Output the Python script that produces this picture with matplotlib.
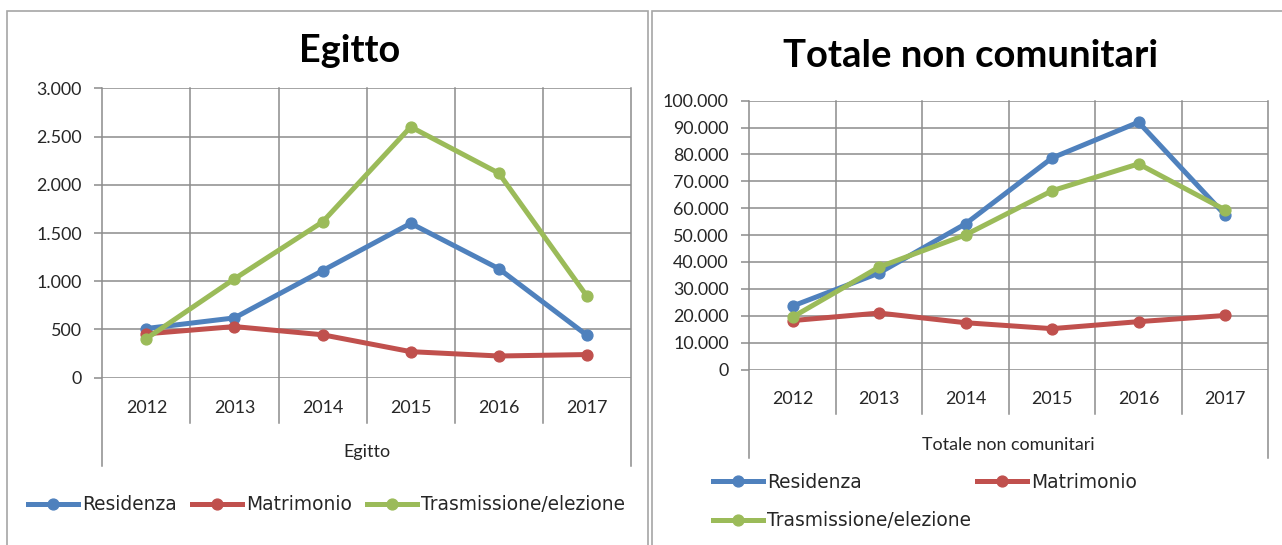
import matplotlib
matplotlib.use("Agg")
import matplotlib.pyplot as plt
from matplotlib.lines import Line2D
from matplotlib.patches import Rectangle
from matplotlib.ticker import FuncFormatter, MultipleLocator

# ---------------- data ----------------
years = ["2012", "2013", "2014", "2015", "2016", "2017"]
series_names = ["Residenza", "Matrimonio", "Trasmissione/elezione"]

egitto_residenza = [510, 620, 1110, 1600, 1130, 440]
egitto_matrimonio = [455, 530, 445, 270, 225, 240]
egitto_trasmissione = [405, 1025, 1615, 2600, 2120, 845]

totale_residenza = [23600, 35900, 54200, 78700, 92000, 57500]
totale_matrimonio = [18200, 21000, 17400, 15200, 17800, 20100]
totale_trasmissione = [19500, 38100, 50100, 66500, 76500, 59400]

colors = ["#4F81BD", "#C0504D", "#9BBB59"]

W, H = 1282, 545
fig = plt.figure(figsize=(W / 100, H / 100), dpi=100)
fig.patch.set_facecolor("white")

GRID = "#8c8c8c"
TXT = "#262626"
BASE = "Lato"
LEG = "DejaVu Sans"
LW = 3.6
MS = 7.8
TICK_FS = 12.9


def fx(px):
    return px / W


def fy(py):
    return 1 - py / H


def thousands(v, pos):
    return f"{int(round(v)):,}".replace(",", ".")


def panel(x0, x1, ytop, ybot, ymax, ystep, series, axis_label, label_y,
          outer_bottom, inner_bottom):
    ax = fig.add_axes([fx(x0), fy(ybot), fx(x1 - x0), (ybot - ytop) / H])
    n = len(years)
    xs = list(range(n))
    for vals, c in zip(series, colors):
        ax.plot(xs, vals, color=c, lw=LW, marker="o", ms=MS,
                solid_capstyle="round", solid_joinstyle="round", zorder=3,
                clip_on=False)
    ax.set_xlim(-0.5, n - 0.5)
    ax.set_ylim(0, ymax)
    ax.yaxis.set_major_locator(MultipleLocator(ystep))
    ax.yaxis.set_major_formatter(FuncFormatter(thousands))
    ax.set_xticks(xs)
    ax.set_xticklabels(years)
    ax.grid(axis="y", color=GRID, lw=1.1)
    for s in ax.spines.values():
        s.set_visible(False)
    ax.tick_params(axis="y", length=5.5, width=1.1, color=GRID, pad=9.3,
                   labelsize=TICK_FS, labelcolor=TXT)
    ax.tick_params(axis="x", length=0, pad=15.7, labelsize=TICK_FS,
                   labelcolor=TXT)
    for lab in ax.get_xticklabels() + ax.get_yticklabels():
        lab.set_family(BASE)
    # category boundary lines (vertical grid + multi-level axis separators)
    h = ybot - ytop
    tr = ax.get_xaxis_transform()
    bounds = [i - 0.5 for i in range(n + 1)]
    for b in bounds:
        outer = b in (bounds[0], bounds[-1])
        low = -(outer_bottom - ybot) / h if outer else -(inner_bottom - ybot) / h
        ax.plot([b, b], [low, 1], transform=tr, color=GRID, lw=1.1,
                clip_on=False, zorder=1)
    ax.text(0.5, -(label_y - ybot) / h, axis_label, transform=ax.transAxes,
            ha="center", va="center", fontsize=TICK_FS, family=BASE, color=TXT)
    return ax


panel(102.3, 631.0, 88.3, 377.7, 3000, 500,
      [egitto_residenza, egitto_matrimonio, egitto_trasmissione],
      "Egitto", 452, 466, 423)
panel(749.3, 1268.3, 100.7, 369.5, 100000, 10000,
      [totale_residenza, totale_matrimonio, totale_trasmissione],
      "Totale non comunitari", 445, 458, 414)

# titles
fig.text(fx(350), fy(62), "Egitto", ha="center", va="baseline",
         fontsize=27.3, fontweight="bold", family=BASE, color="black")
fig.text(fx(970.5), fy(67), "Totale non comunitari", ha="center",
         va="baseline", fontsize=27.5, fontweight="bold", family=BASE,
         color="black")

# legends
handles = [Line2D([], [], color=c, lw=LW, marker="o", ms=MS) for c in colors]
leg1 = fig.legend(handles, series_names, loc="center left",
                  bbox_to_anchor=(fx(28), fy(505)), ncol=3, frameon=False,
                  borderpad=0, borderaxespad=0, handlelength=2.7,
                  handletextpad=0.22, columnspacing=0.8,
                  prop={"family": LEG, "size": 13.4})
# two-column layout, filled column by column: Residenza, Trasmissione | Matrimonio
order = [0, 2, 1]
leg2 = fig.legend([handles[i] for i in order], [series_names[i] for i in order],
                  loc="center left",
                  bbox_to_anchor=(fx(713), fy(501.5)), ncol=2, frameon=False,
                  borderpad=0, borderaxespad=0, handlelength=2.7,
                  handletextpad=0.22, columnspacing=0.3, labelspacing=1.05,
                  prop={"family": LEG, "size": 13.4})
for lg in (leg1, leg2):
    for t in lg.get_texts():
        t.set_color(TXT)

# chart area borders
BORDER = "#a6a6a6"
fig.add_artist(Rectangle((fx(7.3), fy(560)), fx(647.5 - 7.3), (560 - 10.7) / H,
                         transform=fig.transFigure, fill=False,
                         edgecolor=BORDER, lw=1.2))
fig.add_artist(Rectangle((fx(651.7), fy(560)), fx(1300 - 651.7), (560 - 10.7) / H,
                         transform=fig.transFigure, fill=False,
                         edgecolor=BORDER, lw=1.2))

fig.savefig("out.png", dpi=100, facecolor="white")
